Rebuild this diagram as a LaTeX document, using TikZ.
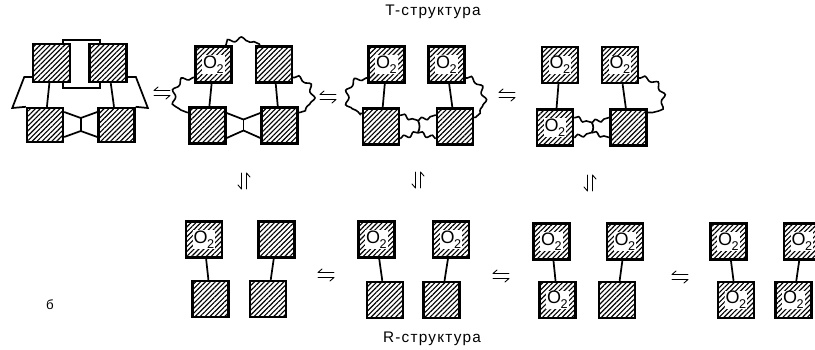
\documentclass[tikz,border=0pt]{standalone}
\usepackage{fontspec}
\setmainfont{Liberation Sans}
\usetikzlibrary{calc,patterns.meta,decorations.pathmorphing}

% O2 label with a white patch cut out of the hatching
\newcommand\oxy{{\setlength\fboxsep{0.6pt}\colorbox{white}{\fontsize{13.5}{14}\selectfont O\kern-0.4pt\raisebox{-3.6pt}{\fontsize{9.5}{10}\selectfont 2}}}}

\tikzset{
  hbox/.style={draw, line width=1.8pt, minimum size=27pt, inner sep=0pt,
    preaction={fill=white},
    pattern={Lines[angle=45,distance=2.6pt,line width=0.85pt]}},
  link/.style={line width=1.3pt},
  wavy/.style={line width=1.2pt, decorate,
    decoration={snake, amplitude=1.6pt, segment length=10pt, pre length=1pt, post length=1pt}},
  swavy/.style={line width=1.2pt, decorate,
    decoration={snake, amplitude=1.5pt, segment length=8pt, pre length=0.5pt, post length=0.5pt}},
  harp/.style={line width=0.65pt, line cap=round},
  harpH/.pic={
    \draw[harp] (-8,-2.5) -- (8,-2.5) (-8,-2.5) -- (-4,-6);
    \draw[harp] (-8,2.5) -- (8,2.5) (8,2.5) -- (4,6);
  },
  harpV/.pic={
    \draw[harp] (-2.5,-8) -- (-2.5,8) (-2.5,8) -- (-6,4);
    \draw[harp] (2.5,-8) -- (2.5,8) (2.5,-8) -- (6,-4);
  },
}

\begin{document}
\begin{tikzpicture}[x=0.75pt,y=-0.75pt]
\useasboundingbox (0,0) rectangle (815,350);
\fill[white] (0,0) rectangle (815,350);
\clip (0,0) rectangle (815,350);

% ---------- T-structure ----------
\node (ttl) at (433,12) {\fontsize{11.5}{13}\selectfont\addfontfeatures{LetterSpace=8}T-структура};

% deoxy form with salt bridges
\coordinate (s1a0) at (51.5,63);
\coordinate (s1b0) at (108,63);
\draw[link, fill=white] ($(s1a0)+(11.5,-23)$) rectangle ($(s1b0)+(-8,25)$);
\node[hbox, minimum width=28pt, minimum height=28.5pt] (s1a) at (s1a0) {};
\node[hbox, minimum width=28pt, minimum height=28.5pt] (s1b) at (s1b0) {};
\node[hbox, minimum height=25.5pt] (s1c) at (45,125) {};
\node[hbox, minimum height=25.5pt] (s1d) at (116.5,125) {};
\draw[link] ($(s1a.west)+(0,14)$) -- ++(-8,0) -- ++(-12,31) -- (s1c.north west);
\draw[link] ($(s1b.east)+(0,14)$) -- ++(8,0) -- ++(12,31) -- (s1d.north east);
\draw[link] (s1a) -- (s1c);
\draw[link] (s1b) -- (s1d);
\coordinate (w1) at ($(s1c.east)!0.5!(s1d.west)$);
\draw[link] ($(s1c.east)+(0,-13)$) -- ($(w1)+(0,-7)$) -- ($(s1d.west)+(0,-13)$);
\draw[link] ($(s1c.east)+(0,12)$) -- ($(w1)+(0,6)$) -- ($(s1d.west)+(0,12)$);
\draw[link] ($(w1)+(0,-7)$) -- ($(w1)+(0,6)$);

% one O2 bound
\node[hbox] (s2a) at (213.5,64.5) {\oxy};
\node[hbox] (s2b) at (274,64.5) {};
\node[hbox] (s2c) at (207.5,125.5) {};
\node[hbox] (s2d) at (279.5,125.5) {};
\draw[link] (s2a) -- (s2c);
\draw[link] (s2b) -- (s2d);
\coordinate (w2) at ($(s2c.east)!0.5!(s2d.west)$);
\draw[link] ($(s2c.east)+(0,-12.5)$) -- ($(w2)+(0,-6)$) -- ($(s2d.west)+(0,-12.5)$);
\draw[link] ($(s2c.east)+(0,12.5)$) -- ($(w2)+(0,5)$) -- ($(s2d.west)+(0,12.5)$);
\draw[link] ($(w2)+(0,-6)$) -- ($(w2)+(0,5)$);
\draw[wavy] ($(s2a.north east)+(-7,0)$) .. controls +(0,-6) and +(0,-6) .. ($(s2b.north west)+(5,0)$);
\draw[wavy] ($(s2a.west)+(0,13)$) .. controls +(-22,0) and +(-16,0) .. ($(s2c.west)+(0,-13)$);
\draw[wavy] ($(s2b.east)+(0,13)$) .. controls +(20,0) and +(16,0) .. ($(s2d.east)+(0,-13)$);

% two O2 bound
\node[hbox] (s3a) at (386.5,64.5) {\oxy};
\node[hbox] (s3b) at (446.5,64.5) {\oxy};
\node[hbox] (s3c) at (381,126.5) {};
\node[hbox] (s3d) at (455,126.5) {};
\draw[link] (s3a) -- (s3c);
\draw[link] (s3b) -- (s3d);
\coordinate (w3) at ($(s3c.east)!0.5!(s3d.west)$);
\draw[swavy] ($(s3c.east)+(0,-11.5)$) -- ($(w3)+(0,-6)$);
\draw[swavy] ($(w3)+(0,-6)$) -- ($(s3d.west)+(0,-11.5)$);
\draw[swavy] ($(s3c.east)+(0,12)$) -- ($(w3)+(0,6)$);
\draw[swavy] ($(w3)+(0,6)$) -- ($(s3d.west)+(0,12)$);
\draw[link] ($(w3)+(0,-6)$) .. controls +(2,4) and +(2,-4) .. ($(w3)+(0,6)$);
\draw[wavy] ($(s3a.west)+(0,13.5)$) .. controls +(-22,0) and +(-16,0) .. ($(s3c.west)+(0,-13)$);
\draw[wavy] ($(s3b.east)+(0,13.5)$) .. controls +(18,0) and +(12,0) .. ($(s3d.east)+(0,-9)$);

% three O2 bound
\node[hbox] (s4a) at (560,65) {\oxy};
\node[hbox] (s4b) at (620,65) {\oxy};
\node[hbox] (s4c) at (555,127.5) {\oxy};
\node[hbox] (s4d) at (628.5,127.5) {};
\draw[link] (s4a) -- (s4c);
\draw[link] (s4b) -- (s4d);
\coordinate (w4) at ($(s4c.east)!0.5!(s4d.west)$);
\draw[swavy] ($(s4c.east)+(0,-10)$) -- ($(w4)+(0,-5)$);
\draw[swavy] ($(w4)+(0,-5)$) -- ($(s4d.west)+(0,-10)$);
\draw[swavy] ($(s4c.east)+(0,10)$) -- ($(w4)+(0,5)$);
\draw[swavy] ($(w4)+(0,5)$) -- ($(s4d.west)+(0,10)$);
\draw[link] ($(w4)+(0,-5)$) .. controls +(2,3) and +(2,-3) .. ($(w4)+(0,5)$);
\draw[wavy] ($(s4b.east)+(0,13)$) .. controls +(24,0) and +(20,0) .. ($(s4d.east)+(0,-15)$);

% equilibria in the top row and down to the bottom row
\pic (h1) at (162,93) {harpH};
\pic (h2) at (328,97) {harpH};
\pic (h3) at (507,95) {harpH};
\pic (v1) at (244,181) {harpV};
\pic (v2) at (418,180) {harpV};
\pic (v3) at (590,183) {harpV};

% ---------- R-structure ----------
\node[hbox] (t1) at (204,239.5) {\oxy};
\node[hbox] (b1) at (210.5,299) {};
\node[hbox] (t2) at (276.5,239.5) {};
\node[hbox] (b2) at (268,299) {};
\draw[link] (t1) -- (b1);
\draw[link] (t2) -- (b2);

\node[hbox] (t3) at (376.5,239.5) {\oxy};
\node[hbox] (b3) at (385,300) {};
\node[hbox] (t4) at (451,239.5) {\oxy};
\node[hbox] (b4) at (441.5,300) {};
\draw[link] (t3) -- (b3);
\draw[link] (t4) -- (b4);

\node[hbox] (t5) at (551.5,241.5) {\oxy};
\node[hbox] (b5) at (557.5,300) {\oxy};
\node[hbox] (t6) at (625,241.5) {\oxy};
\node[hbox] (b6) at (617,300) {};
\draw[link] (t5) -- (b5);
\draw[link] (t6) -- (b6);

\node[hbox] (t7) at (728.5,241.5) {\oxy};
\node[hbox] (b7) at (736,300) {\oxy};
\node[hbox] (t8) at (802,241.5) {\oxy};
\node[hbox] (b8) at (793.5,300) {\oxy};
\draw[link] (t7) -- (b7);
\draw[link] (t8) -- (b8);

\pic (h4) at (326,275) {harpH};
\pic (h5) at (501,276) {harpH};
\pic (h6) at (680,277) {harpH};

\node (rtl) at (432,339) {\fontsize{11.5}{13}\selectfont\addfontfeatures{LetterSpace=8}R-структура};
\node (lbl) at (50,305) {\fontsize{10}{12}\selectfont б};
\end{tikzpicture}
\end{document}
